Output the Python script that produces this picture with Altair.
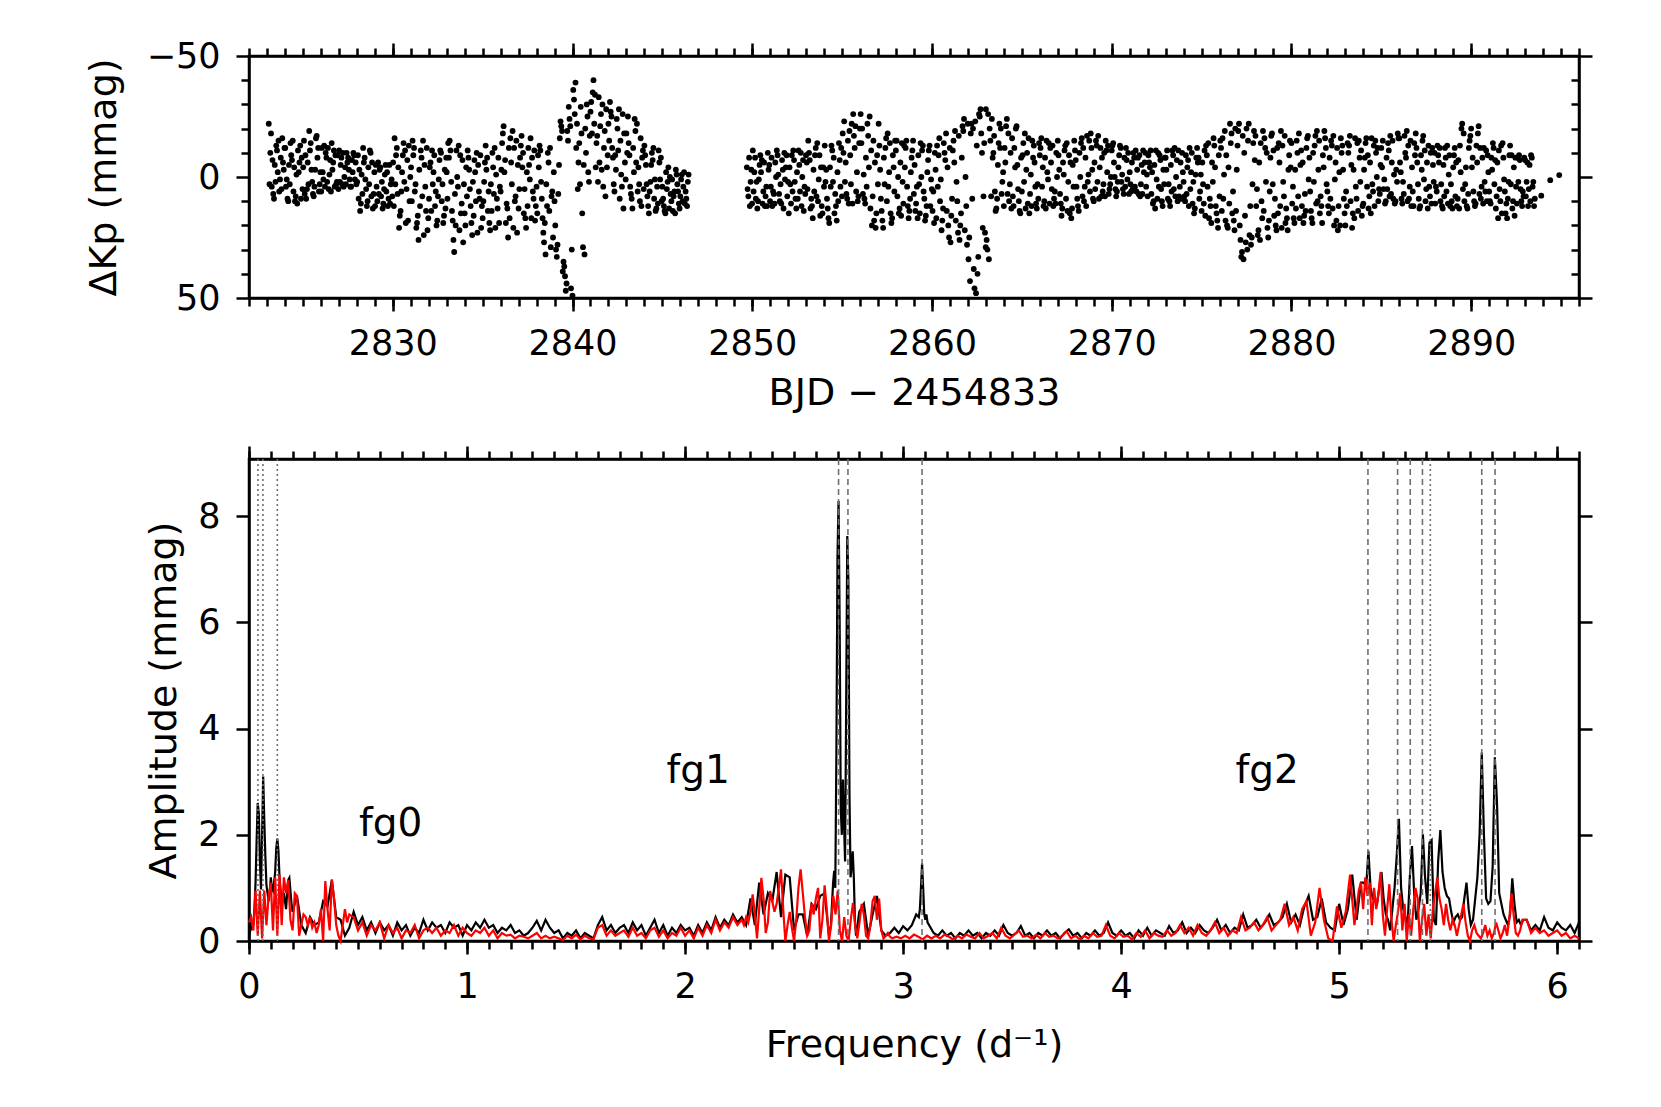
import altair as alt
import pandas as pd

FONT = "DejaVu Sans"
FS_TICK = 35
FS_TITLE = 38
FS_TEXT = 39

# ---------------- light curve (top panel) ----------------
LC_CADENCE = 1.0 / 12.0
LC_HALF = 1.0 / 24.0
LC1_START = 2823.1
LC1 = [
    -22, -10, 4, 7, -5, -13, -2, 6, -8, -16, -3,
    -12, 1, 10, 3, -9, -15, -4, 8, 11, -2, -13, -8,
    -4, 7, 9, -6, -19, -14, 2, 8, -3, -17, -12, 3,
    6, -2, -13, -10, 2, 5, -7, -14, -6, 4, 3, -9,
    -11, -5, 3, 4, -4, -10, -8, 1, 4, -2, -9, -6,
    2, 9, 14, -1, -12, -8, 5, 10, 3, -10, -6, 7,
    12, 4, -6, -3, 8, 13, 5, -5, -2, 9, 11, 1,
    -6, -16, -9, 7, 21, 14, -2, -14, -11, 5, 18, 10,
    -4, -15, -12, 3, 19, 26, 12, -8, -15, -5, 14, 22,
    9, -6, -11, -2, 12, 20, 8, -7, -10, 3, 16, 13,
]
LC1B = [
    3, -18, -7, 9, 2, -11, -15, 1, 5, -6, -12,
    4, 9, -5, -14, -7, 6, 10, -1, -11, -6, 9, 5,
    -15, -9, 5, 3, -11, -3, 7, 4, -16, -8, 6, -2,
    -12, 1, 4, -8, -12, -1, 6, -3, -11, -9, 2, 5,
    2, -8, -10, 0, 3, -6, -3, 4, -7, -10, 1, 3,
    -9, -3, 11, 7, -6, 1, 12, -4, -11, 8, 13, -2,
    -5, 10, 7, -4, 2, 11, -1, 6, 12, -5, 3, 8,
    12, 3, -12, -4, 16, 6, -9, 2, 19, -7, -13, 0,
    10, -9, 6, 21, 16, -3, -11, 8, 24, 4, -12, 17,
    -4, 14, 3, -9, 6, 18, 1, -11, 10, 19, -3, -8,
]
LC2_START = 2833.0
LC2 = [
    -2, -14, -15, 2, 18, 31, 20, 0, -13, -9, 11, 27,
    15, -4, -11, -3, 12, 24, 16, -2, -10, -5, 9, 21,
    17, 2, -13, -8, 6, 22, 14, -4, -12, -1, 13, 19,
    6, -14, -21, -7, 11, 25, 17, -6, -19, -12, 8, 23,
    13, -8, -17, -10, 5, 21, 12, -5, -16, -8, 9, 18,
    4, -9, -13, 2, 17, 27, 32, 12, -6, -12, 8, 25,
    10, 30, 28, -5, -23, -19, 35, 41, 44, -15, -24, 46,
    49, -32, -39, -22, -6, 3, -18, 29, 32, -10, -25, 2,
    -27, -18, -40, -34, -14, 2, -6, -26, -30, -12, 8, -4,
    -22, -31, -25, -8, 6, -3, -20, -28, -15, 4, 13, -6,
    -18, -25, -9, 7, 13, -2, -19, -22, -4, 10, 12, -11,
    -13, -5, 8, 15, 2, -10, -12, 1, 13, 11, -6, -8,
    4, 12, 15, 5, -4, 0, 10, 14, 6, -3, 3, 11,
    8, -1, 4, 11, 9, 2,
]
LC2B = [
    9, -8, -11, 14, 26, 7, -11, 4, 22, 15, -7, 3,
    20, 8, -8, 5, 19, 2, -7, 10, 23, 6, -9, 12,
    10, -6, -3, 14, 19, 3, -10, 7, 21, 9, -8, 4,
    -3, -18, -2, 19, 13, -12, -16, 3, 21, 10, -15, -5,
    5, -13, -4, 15, 17, -2, -12, 1, 17, 6, -11, 12,
    15, -4, -11, 9, 23, 19, 3, -10, 14, 29, 6, -2,
    20, 33, 7, -16, -21, 39, 37, 47, -19, -29, -21, 30,
    -36, -26, -12, 5, -14, -29, 15, -5, -20, -30, -2, -17,
    -31, -35, -22, -4, -17, -33, -21, -3, 4, -19, -28, -9,
    -15, -27, -12, 3, -9, -24, -11, 9, -1, -26, -18, 1,
    -10, -14, 4, 9, -12, -24, -6, 6, 3, -16, -8, 5,
    -9, 3, 12, 6, -5, -7, 9, 14, 4, -11, 1, 10,
    9, 14, -2, 2, 13, 7, 1, 8, 15, -1, 6, 13,
    1, 10, -2, 6, 12, -1,
]
LC3_START = 2849.7
LC3 = [
    -4, 8, 12, -3,
    -11, -2, 9, 13, 1, -9, -7, 6, 12, 4, -10, -5,
    4, 12, 7, -6, -11, -1, 10, 11, -3, -10, -4, 8,
    15, 3, -9, -11, 2, 13, 9, -5, -10, 0, 14, 7,
    -6, -15, -7, 9, 17, 6, -12, -14, 1, 16, 12, -4,
    -13, -3, 13, 19, 4, -11, -8, 7, 18, 10, -7, -12,
    -18, -23, -6, 9, 11, -9, -22, -26, -12, 6, 10, -14,
    -26, -20, -1, 11, 4, -17, -25, -11, 8, 18, 21, -9,
    -22, -3, 14, 21, 3, -16, -18, -2, 15, 17, -4, -15,
    -15, 0, 13, 16, 2, -13, -12, 4, 17, 9, -8, -15,
    -5, 11, 17, 3, -14, -11, 6, 18, 12, -7, -13, 1,
    14, 19, -3, -13, -9, 10, 22, 13, -10, -18, -4, 25,
    27, 9, -15, -19, 2, 23, 26, 15, -21, -24, 0, 28,
    34, 43, -22, -20, 46, 48, 40, -26, -28, -10, 8, 23,
]
LC3B = [
    5, -8, 2, 11,
    6, -8, 2, 10, -5, -2, 11, -6, 8, 12, -3, 10,
    -8, 6, 11, 0, -9, 7, 3, -7, 13, 1, -9, 2,
    -4, 11, 6, -7, 9, -2, -11, 6, 12, -7, 4, -9,
    5, -10, 13, 12, -3, -9, 8, 10, -9, -4, 15, 4,
    2, 9, 17, -4, -13, 2, 15, 12, -2, -14, 4, 8,
    -10, 2, 7, -15, -19, 3, 11, -17, -21, -2, 8, -20,
    -14, 7, 9, -8, -22, -4, 13, 20, -15, -6, 15, 3,
    -13, 9, 18, -8, -12, 10, 4, -14, 19, -9, 6, -11,
    8, 15, -6, -14, 11, -4, -15, 12, 14, -2, -11, 7,
    14, 4, -9, 15, 0, -13, 9, 16, -2, -11, 12, 5,
    6, -10, 17, 4, -16, 1, 18, -14, -7, 14, 20, -12,
    16, -11, -6, 18, 10, -17, 20, -8, -19, 22, 12, -22,
    25, -18, 9, 38, -23, -13, 33, -25, -18, 21, -14, 29,
]
LC4_START = 2863.0
LC4 = [
    -28, 30, 34, -15, -24, -10, 6, 13, -5, -22, -20, 2,
    12, -6, -24, -18, 3, 13, 8, -12, -20, -5, 10, 15,
    6, -14, -18, -3, 11, 15, -1, -15, -13, 4, 13, 9,
    -9, -16, -4, 10, 13, -2, -14, -12, 5, 12, 6, -10,
    -15, -3, 11, 13, -1, -13, -14, 2, 15, 17, -5, -15,
    -7, 9, 14, 0, -16, -12, 4, 12, 2, -15, -18, -3,
    10, 5, -13, -17, -4, 8, 6, -10, -15, -2, 7, 3,
    -11, -14, 0, 8, 2, -9, -12, -1, 7, 4, -7, -10,
    -2, 6, 5, -8, -11, -3, 7, 8, -5, -11, -6, 4,
    8, -6, -11, -2, 10, 13, 1, -10, -9, 5, 12, 3,
    -8, -11, 3, 12, 6, -9, -12, 0, 10, 8, -6, -10,
    2, 10, 7, -7, -12, -2, 11, 15, -1, -12, -8, 6,
    14, 3, -11, -13, 4, 17, 12, -6, -16, -4, 15, 21,
    8, -12, -16, -1, 18, 20, -4, -22, -18, 6, 22, 14,
    -13, -22, 26, 31, 34, 16, -20, -15, 24, 28, 3, -19,
]
LC4B = [
    26, -26, -20, 8, -8, -17, 14, 9, -14, -12, 7, -2,
    -12, -21, 7, 10, -10, -16, 12, -4, -21, 5, 14, -8,
    -9, 2, 13, -10, -16, 7, 12, -8, -6, 11, 3, -14,
    -12, 4, 12, -8, -15, 1, 11, -6, -13, 9, 11, 0,
    -9, 7, 16, -6, -11, 9, 14, -9, -6, 13, 4, -11,
    4, 12, -10, -14, 8, 10, -8, -17, -1, 6, -12, 9,
    -6, -15, 2, 9, -12, -8, 3, 8, -11, -13, 5, 0,
    -13, -6, 5, 6, -4, -13, 2, 5, -8, -12, 1, 7,
    3, -6, -10, 4, 6, -8, -9, 3, 7, -2, -10, -1,
    -9, -4, 7, 11, -5, -11, 9, 4, -7, 10, -3, -8,
    -3, 9, 10, -5, -11, 5, 8, -7, -11, 4, 9, -2,
    8, -9, -4, 12, 5, -10, 2, 13, -8, -6, 9, -1,
    -6, 11, 16, -9, -14, 9, 19, 2, -13, 12, 18, -9,
    -15, 14, 9, -19, -9, 21, 11, -14, 15, 18, -20, -3,
    -19, 20, 33, -17, -10, 27, 30, -22, 12, 25, -14, -7,
]
LC5_START = 2878.0
LC5 = [
    -17, 5, 22, 26, 10, -19, -16, 2, 21, 18, -8, -18,
    -11, 9, 22, 15, -6, -19, -13, 8, 19, 17, -3, -15,
    -14, 4, 19, 13, -10, -18, -5, 12, 19, 7, -12, -17,
    -8, 14, 19, 2, -17, -19, -3, 15, 12, -9, -19, -12,
    6, 15, 9, -13, -17, 1, 18, 22, -2, -16, -13, 9,
    20, 12, -10, -17, -5, 15, 17, 4, -14, -15, 2, 16,
    11, -8, -16, -9, 8, 15, 3, -13, -15, 0, 10, 7,
    -12, -15, 1, 10, 5, -11, -17, -6, 9, 11, -3, -18,
    -16, -2, 11, 7, -10, -19, -13, 4, 12, 6, -14, -18,
    -6, 9, 12, -3, -17, -11, 5, 13, 4, -10, -12, 2,
    11, 6, -9, -12, 3, 13, 8, -8, -13, -1, 12, 10,
    -4, -12, -6, 9, 13, -2, -22, -18, 3, 12, 7, -15,
    -20, -8, 10, 11, -6, -21, -12, 4, 11, 2, -11, -9,
    6, 11, -3, -12, -7, 8, 17, 5, -13, -14, 1, 15,
    17, 2, -13, -9, 10, 16, 4, -8, -9, 5, 12, 8,
    -7, 2, 12, -5, -9, 4, 12,
]
LC5B = [
    12, 24, -6, -14, 17, 14, -12, -10, 25, 6, -17, 3,
    16, 20, -12, -14, 12, 21, 2, -17, 13, 22, -9, -4,
    11, 17, -3, -15, 8, 17, -11, -6, 16, 14, -16, 1,
    6, 17, -10, -13, 11, 10, -15, 8, 19, -4, -16, 3,
    12, -8, -15, 13, 20, -6, -12, 12, 20, -10, -3, 15,
    6, -14, -13, 10, 21, -3, -16, 9, 14, -8, -11, 12,
    -3, -14, 4, 13, -6, -16, 6, 12, -10, -12, 5, -5,
    -4, 5, 11, -8, -14, 8, 7, -15, -1, 10, 2, -16,
    -6, 9, 2, -17, -8, 10, 9, -15, -4, 12, -9, -12,
    3, 13, -9, -15, 1, 10, -6, -13, 8, 11, -5, -10,
    4, -13, -6, 10, 12, -5, -12, 6, 11, -9, 3, 13,
    -9, 8, 12, -7, -13, -20, 5, 10, -4, 13, -12, -17,
    -4, 6, 12, -13, -18, 7, 9, -8, -12, 6, 10, -2,
    10, -8, -14, 3, 13, -6, -11, 10, 15, -8, 6, 11,
    9, -9, 3, 13, -4, -8, 11, 2, -7, 10, 6, -8,
    8, -6, 5, 10, -8, 2, 9,
]
LC_TAIL_T = [2893.9, 2894.4, 2894.9]
LC_TAIL_V = [7.7, 1.3, -0.8]

# ---------------- amplitude spectra (bottom panel) ----------------
# each segment: start frequency, grid step, amplitudes
BK_A = (0.000, 0.005, [
    0.05, 0.20, 0.38, 0.25, 0.30, 0.60, 1.10, 1.90, 2.60, 2.40,
    1.50, 0.97, 2.00, 3.10, 2.30, 1.60, 1.05, 0.90, 0.75, 0.90,
    1.20, 1.00, 0.95, 1.10, 1.30, 1.75, 1.93, 1.70, 1.20, 0.95,
    0.65, 0.80, 0.90, 0.75, 0.60, 0.90, 1.15, 1.19, 0.95, 0.70,
    0.55])
BK_B = (0.22, 0.02, [
    0.85, 0.30, 0.15, 0.45, 0.30,
    0.35, 0.75, 0.65, 1.15, 0.45,
    0.40, 0.10, 0.25, 0.55, 0.30,
    0.45, 0.20, 0.35, 0.15, 0.35,
    0.20, 0.30, 0.10, 0.35, 0.20,
    0.30, 0.10, 0.25, 0.15, 0.40,
    0.20, 0.35, 0.25, 0.30, 0.15,
    0.35, 0.25, 0.30, 0.10, 0.30,
    0.20, 0.35, 0.25, 0.40, 0.25,
    0.30, 0.15, 0.25, 0.20, 0.30,
    0.15, 0.20, 0.10, 0.15, 0.25,
    0.38, 0.20, 0.40, 0.25, 0.15,
    0.20, 0.05, 0.15, 0.10, 0.20,
    0.05, 0.15, 0.10, 0.05, 0.30,
    0.45, 0.20, 0.30, 0.15, 0.25,
    0.30, 0.15, 0.35, 0.20, 0.30,
    0.10, 0.25, 0.40, 0.15, 0.30,
    0.10, 0.25, 0.15, 0.30, 0.20,
    0.25, 0.10, 0.30, 0.15, 0.35,
    0.20, 0.45, 0.25, 0.40, 0.30,
    0.50, 0.35, 0.45, 0.30, 0.80,
    0.30, 1.10, 0.50, 0.90, 0.75,
    1.30, 0.45, 1.25, 1.20, 0.20,
    0.50, 0.50, 0.10, 0.70, 0.60,
    0.85, 0.90, 0.10])
BK_C = (2.669, 0.005, [
    0.30, 0.70, 1.10, 1.32, 1.00, 3.50, 7.20, 8.29, 6.00, 2.50,
    2.00, 3.04, 2.20, 1.50, 4.50, 7.63, 6.80, 2.80, 1.20, 1.40,
    1.69, 1.20, 0.40, 0.10, 0.15, 0.40, 0.55])
BK_D = (2.82, 0.02, [
    0.70, 0.10, 0.50, 0.85, 0.20, 0.10, 0.15, 0.25, 0.15, 0.28,
    0.20, 0.30, 0.50])
BK_E = (3.072, 0.005, [0.45, 0.60, 1.00, 1.46, 1.00, 0.50, 0.40, 0.50, 0.35])
BK_F = (3.14, 0.02, [
    0.15, 0.10, 0.20, 0.10, 0.15,
    0.05, 0.15, 0.10, 0.20, 0.10,
    0.15, 0.05, 0.15, 0.10, 0.20,
    0.10, 0.30, 0.15, 0.10, 0.15,
    0.28, 0.10, 0.15, 0.05, 0.15,
    0.10, 0.20, 0.10, 0.15, 0.05,
    0.15, 0.22, 0.10, 0.15, 0.05,
    0.15, 0.10, 0.20, 0.10, 0.15,
    0.35, 0.15, 0.10, 0.20, 0.10,
    0.15, 0.05, 0.20, 0.10, 0.25,
    0.10, 0.20, 0.15, 0.10, 0.28,
    0.15, 0.20, 0.35, 0.15, 0.25,
    0.15, 0.30, 0.20, 0.15, 0.25,
    0.40, 0.20, 0.30, 0.15, 0.25,
    0.20, 0.50, 0.25, 0.30, 0.40,
    0.25, 0.35, 0.50, 0.30, 0.35,
    0.45, 0.70, 0.35, 0.50, 0.30,
    0.65, 0.85, 0.40, 0.45, 0.80,
    0.35, 0.25, 0.20, 0.70, 0.30,
    0.60, 1.25, 0.40, 1.10])
BK_G = (5.114, 0.01, [
    1.10, 1.00, 1.70, 1.00, 0.80, 0.75, 0.70, 1.00, 1.30, 0.80,
    0.50, 0.40, 0.20, 0.60, 1.00, 1.60, 2.30, 1.00, 0.60, 0.45,
    0.30, 1.20, 1.79, 0.90, 0.40, 0.60, 0.90, 2.01, 1.20, 0.70,
    1.85, 1.90, 0.40, 0.30, 1.50, 2.09, 1.30, 1.00, 0.85, 0.80,
    0.55, 0.35, 0.45, 0.50, 0.40, 0.45, 0.80, 1.10, 0.60, 0.30,
    0.40, 0.80, 1.20, 2.00, 3.55, 2.00, 0.80, 0.70, 0.75, 1.40,
    3.46, 2.60, 0.90, 0.70, 0.50, 0.40, 0.30, 0.50, 1.18, 0.70,
    0.35, 0.40, 0.30, 0.40])
BK_H = (5.86, 0.02, [
    0.40, 0.20, 0.30, 0.20, 0.45, 0.25, 0.20, 0.35, 0.25, 0.20,
    0.30, 0.15, 0.35])

RD_A = (0.00, 0.01, [
    0.35, 0.45, 0.20, 0.95, 0.10, 0.95, 0.05, 0.95, 0.30, 0.85,
    1.10, 0.20, 1.20, 0.10, 1.25, 0.30, 1.20, 0.90, 1.15, 0.40,
    0.20, 0.90, 0.85, 0.10, 0.30, 0.50, 0.45, 0.30, 0.45, 0.25,
    0.35, 0.15, 0.30, 0.60, 0.00, 1.13, 0.60, 0.20, 1.16, 0.80,
    0.30, 0.10, 0.00, 0.30, 0.60, 0.35])
RD_B = (0.46, 0.02, [
    0.50, 0.45, 0.20, 0.35, 0.10,
    0.30, 0.20, 0.35, 0.05, 0.30,
    0.15, 0.25, 0.05, 0.20, 0.15,
    0.30, 0.05, 0.20, 0.25, 0.15,
    0.25, 0.10, 0.20, 0.15, 0.30,
    0.10, 0.25, 0.15, 0.10, 0.20,
    0.15, 0.25, 0.10, 0.20, 0.05,
    0.15, 0.10, 0.12, 0.05, 0.10,
    0.08, 0.05, 0.10, 0.15, 0.05,
    0.10, 0.05, 0.08, 0.05, 0.02,
    0.10, 0.05, 0.12, 0.03, 0.10,
    0.05, 0.03, 0.25, 0.30, 0.10,
    0.20, 0.10, 0.15, 0.20, 0.08,
    0.25, 0.10, 0.15, 0.05, 0.20,
    0.25, 0.08, 0.20, 0.05, 0.15,
    0.10, 0.25, 0.10, 0.20, 0.05,
    0.25, 0.10, 0.30, 0.15, 0.40,
    0.20, 0.35, 0.25, 0.45, 0.30])
RD_C = (2.25, 0.01, [
    0.35, 0.40, 0.30, 0.45, 0.35, 0.55, 0.88, 0.50, 0.05, 0.60,
    1.19, 0.80, 0.15, 0.35, 0.94, 0.75, 0.55, 0.70, 1.00, 1.35,
    0.60, 0.00, 0.30, 0.55, 0.25, 0.00, 0.40, 1.00, 1.35, 0.90,
    0.45, 0.10, 0.20, 0.70, 0.50, 0.80, 1.00, 0.05, 0.40, 1.05,
    0.60, 0.00, 0.30, 0.85, 0.50, 0.95, 0.20, 0.00, 0.45, 0.10,
    0.00, 0.40, 0.72, 0.30, 0.05, 0.35, 0.70, 0.50, 0.10, 0.05,
    0.30, 0.75, 0.85, 0.40, 0.80, 0.20, 0.05, 0.10, 0.15, 0.08,
    0.05])
RD_D = (2.97, 0.02, [
    0.08, 0.05, 0.10, 0.05, 0.12,
    0.08, 0.03, 0.10, 0.05, 0.10,
    0.05, 0.12, 0.08, 0.03, 0.10,
    0.05, 0.12, 0.08, 0.05, 0.15,
    0.05, 0.10, 0.15, 0.05, 0.25,
    0.10, 0.05, 0.12, 0.20, 0.08,
    0.10, 0.05, 0.12, 0.05, 0.15,
    0.08, 0.10, 0.05, 0.10, 0.18,
    0.05, 0.10, 0.03, 0.10, 0.05,
    0.15, 0.08, 0.10, 0.30, 0.10,
    0.05, 0.15, 0.08, 0.10, 0.03,
    0.15, 0.08, 0.20, 0.05, 0.15,
    0.10, 0.08, 0.20, 0.10])
RD_E = (4.25, 0.02, [
    0.15, 0.30, 0.15, 0.25, 0.10,
    0.30, 0.15, 0.10, 0.20, 0.35,
    0.15, 0.25, 0.10, 0.20, 0.15,
    0.45, 0.20, 0.25, 0.35, 0.20,
    0.30, 0.45, 0.20, 0.30, 0.40,
    0.70, 0.30, 0.45, 0.20, 0.60,
    0.75, 0.10, 0.35, 1.00, 0.40,
    0.05, 0.00, 0.65, 0.25, 0.55,
    1.25, 0.30, 0.95])
RD_F = (5.10, 0.01, [
    1.10, 0.60, 1.20, 0.85, 1.10, 0.30, 1.00, 0.60, 0.90, 1.30,
    0.50, 0.10, 0.60, 1.07, 0.40, 0.00, 0.30, 0.55, 0.90, 0.20,
    0.70, 0.00, 0.50, 0.10, 0.60, 1.00, 0.80, 0.00, 0.40, 0.70,
    0.10, 0.50, 0.05, 0.60, 0.90, 1.20, 0.80, 0.60, 0.30, 0.70,
    0.40, 0.20, 0.40, 0.30, 0.10, 0.30, 0.50, 0.70, 0.35, 0.10,
    0.00, 0.20, 0.30, 0.15, 0.10, 0.05, 0.15, 0.30, 0.10, 0.20,
    0.05, 0.15, 0.35, 0.20, 0.05, 0.15, 0.30, 0.10, 0.40, 0.90,
    0.50, 0.15, 0.10, 0.20, 0.40])
RD_G = (5.86, 0.02, [
    0.40, 0.15, 0.25, 0.15, 0.20, 0.10, 0.15, 0.20, 0.10, 0.15,
    0.05, 0.10, 0.05])

VLINES_DASHED = [2.704, 2.747, 3.087, 5.132, 5.268, 5.326, 5.382, 5.654, 5.715]
VLINES_DOTTED = [0.041, 0.064, 0.130, 5.418]

LABEL_TEXT = ["fg0", "fg1", "fg2"]
LABEL_F = [0.65, 2.06, 4.67]
LABEL_A = [2.2, 3.2, 3.2]

# ---------------- tables ----------------
lc_rows = []
for start, vals in [(LC1_START, LC1), (LC2_START, LC2), (LC3_START, LC3),
                    (LC4_START, LC4), (LC5_START, LC5)]:
    for i, v in enumerate(vals):
        lc_rows.append({"t": start + i * LC_CADENCE, "dm": v})
for start, vals in [(LC1_START, LC1B), (LC2_START, LC2B), (LC3_START, LC3B),
                    (LC4_START, LC4B), (LC5_START, LC5B)]:
    for i, v in enumerate(vals):
        lc_rows.append({"t": start + LC_HALF + i * LC_CADENCE, "dm": v})
for t, v in zip(LC_TAIL_T, LC_TAIL_V):
    lc_rows.append({"t": t, "dm": v})
lc = pd.DataFrame(lc_rows)


def expand(segs):
    rows = []
    for f0, step, vals in segs:
        for i, v in enumerate(vals):
            rows.append({"f": round(f0 + i * step, 4), "a": v})
    return pd.DataFrame(rows)


black = expand([BK_A, BK_B, BK_C, BK_D, BK_E, BK_F, BK_G, BK_H])
red = expand([RD_A, RD_B, RD_C, RD_D, RD_E, RD_F, RD_G])
dashed = pd.DataFrame({"f": VLINES_DASHED})
dotted = pd.DataFrame({"f": VLINES_DOTTED})
labels = pd.DataFrame({"f": LABEL_F, "a": LABEL_A, "txt": LABEL_TEXT})

W = 1330
H1 = 242
H2 = 482
MAJ = 13
MIN = 8

# ---------------- top panel ----------------
X1 = alt.Scale(domain=[2822, 2896], nice=False, zero=False)
Y1 = alt.Scale(domain=[-50, 50], reverse=True, nice=False, zero=False)
T_MAJOR = [2830, 2840, 2850, 2860, 2870, 2880, 2890]
T_MINOR = list(range(2822, 2897))
DM_MAJOR = [-50, 0, 50]
DM_MINOR = [-40, -30, -20, -10, 10, 20, 30, 40]

carrier1 = lc.iloc[:1]


def carrier(data, xf, yf, xs, ys, xaxis, yaxis):
    return alt.Chart(data).mark_point(opacity=0).encode(
        x=alt.X(xf, scale=xs, axis=xaxis),
        y=alt.Y(yf, scale=ys, axis=yaxis),
    )


pts = alt.Chart(lc).mark_circle(size=34, color="black", opacity=1).encode(
    x=alt.X("t:Q", scale=X1, axis=alt.Axis(
        orient="bottom", values=T_MAJOR, format="d", tickSize=MAJ,
        labelPadding=15, title="BJD − 2454833", titlePadding=13, labelFlush=False)),
    y=alt.Y("dm:Q", scale=Y1, axis=alt.Axis(
        orient="left", values=DM_MAJOR, format="d", tickSize=MAJ,
        labelPadding=16, title="ΔKp (mmag)", titlePadding=23)),
)
top_c2 = carrier(carrier1, "t:Q", "dm:Q", X1, Y1,
                 alt.Axis(orient="bottom", values=T_MINOR, tickSize=MIN, labels=False, domain=False, title=None),
                 alt.Axis(orient="left", values=DM_MINOR, tickSize=MIN, labels=False, domain=False, title=None))
top_c3 = carrier(carrier1, "t:Q", "dm:Q", X1, Y1,
                 alt.Axis(orient="top", values=T_MAJOR, tickSize=MAJ, labels=False, title=None),
                 alt.Axis(orient="right", values=DM_MAJOR, tickSize=MAJ, labels=False, title=None))
top_c4 = carrier(carrier1, "t:Q", "dm:Q", X1, Y1,
                 alt.Axis(orient="top", values=T_MINOR, tickSize=MIN, labels=False, domain=False, title=None),
                 alt.Axis(orient="right", values=DM_MINOR, tickSize=MIN, labels=False, domain=False,
                          title=None, offset=-MIN))

top = alt.layer(pts, top_c2, top_c3, top_c4).resolve_axis(
    x="independent", y="independent").properties(width=W, height=H1)

# ---------------- bottom panel ----------------
X2 = alt.Scale(domain=[0, 6.1], nice=False, zero=False)
Y2 = alt.Scale(domain=[0, 9.08], nice=False, zero=False)
F_MAJOR = [0, 1, 2, 3, 4, 5, 6]
F_MINOR = [round(0.1 * i, 1) for i in range(62)]
A_MAJOR = [0, 2, 4, 6, 8]

bl = alt.Chart(black).mark_line(color="black", strokeWidth=2.2).encode(
    x=alt.X("f:Q", scale=X2, axis=alt.Axis(
        orient="bottom", values=F_MAJOR, format="d", tickSize=MAJ,
        labelPadding=15, title="Frequency (d⁻¹)", titlePadding=22, labelFlush=False)),
    y=alt.Y("a:Q", scale=Y2, axis=alt.Axis(
        orient="left", values=A_MAJOR, format="d", tickSize=MAJ,
        labelPadding=16, title="Amplitude (mmag)", titlePadding=14)),
)
rl = alt.Chart(red).mark_line(color="#ff0000", strokeWidth=2.2).encode(
    x=alt.X("f:Q", scale=X2, axis=None),
    y=alt.Y("a:Q", scale=Y2, axis=None),
)
vd = alt.Chart(dashed).mark_rule(color="#707070", strokeWidth=1.6, strokeDash=[6, 4]).encode(
    x=alt.X("f:Q", scale=X2, axis=None),
)
vt = alt.Chart(dotted).mark_rule(color="#707070", strokeWidth=1.6, strokeDash=[2, 3]).encode(
    x=alt.X("f:Q", scale=X2, axis=None),
)
tx = alt.Chart(labels).mark_text(font=FONT, fontSize=FS_TEXT, color="black").encode(
    x=alt.X("f:Q", scale=X2, axis=None),
    y=alt.Y("a:Q", scale=Y2, axis=None),
    text="txt:N",
)
carrier2 = black.iloc[:1]
bot_c2 = carrier(carrier2, "f:Q", "a:Q", X2, Y2,
                 alt.Axis(orient="bottom", values=F_MINOR, tickSize=MIN, labels=False, domain=False, title=None),
                 alt.Axis(orient="right", values=A_MAJOR, tickSize=MAJ, labels=False, title=None))
bot_c3 = carrier(carrier2, "f:Q", "a:Q", X2, Y2,
                 alt.Axis(orient="top", values=F_MAJOR, tickSize=MAJ, labels=False, title=None),
                 None)
bot_c4 = carrier(carrier2, "f:Q", "a:Q", X2, Y2,
                 alt.Axis(orient="top", values=F_MINOR, tickSize=MIN, labels=False, domain=False, title=None),
                 None)

bottom = alt.layer(bl, rl, vt, vd, tx, bot_c2, bot_c3, bot_c4).resolve_axis(
    x="independent", y="independent").properties(width=W, height=H2)

chart = alt.vconcat(top, bottom, spacing=161, bounds="flush").properties(
    padding={"left": 75, "top": 29, "right": 10, "bottom": 10}
).configure_axis(
    labelFont=FONT, titleFont=FONT, labelFontSize=FS_TICK, titleFontSize=FS_TITLE,
    titleFontWeight="normal", labelColor="black", titleColor="black",
    tickColor="black", domainColor="black", tickWidth=2.5, domainWidth=2.5,
    grid=False,
).configure_view(stroke="black", strokeWidth=2.5)

chart.save("out.html", embed_options={"renderer": "svg", "actions": False})
